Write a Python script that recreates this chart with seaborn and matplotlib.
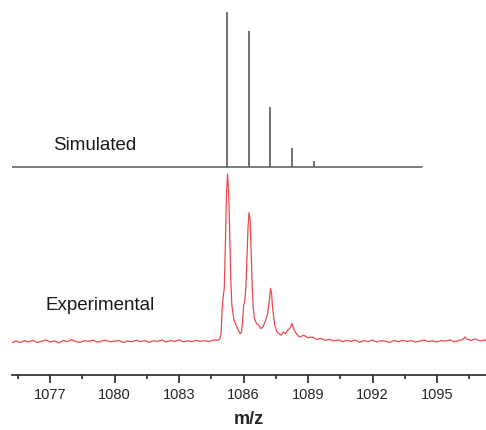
import numpy as np
import matplotlib
matplotlib.use("Agg")
import matplotlib.pyplot as plt
import seaborn as sns
import pandas as pd
from matplotlib.ticker import MultipleLocator

# Simulated isotope pattern (relative intensity)
sim_mz = [1085.24, 1086.25, 1087.24, 1088.25, 1089.27]
sim_int = [100, 88, 39, 12, 4]
sim_range = [1075.22, 1094.3]

# Experimental spectrum (relative intensity)
exp_mz = [
    1075.2, 1075.4, 1075.6, 1075.8, 1076.0, 1076.2, 1076.4, 1076.6, 1076.8, 1077.0,
    1077.2, 1077.4, 1077.6, 1077.8, 1078.0, 1078.2, 1078.4, 1078.6, 1078.8, 1079.0,
    1079.2, 1079.4, 1079.6, 1079.8, 1080.0, 1080.2, 1080.4, 1080.6, 1080.8, 1081.0,
    1081.2, 1081.4, 1081.6, 1081.8, 1082.0, 1082.2, 1082.4, 1082.6, 1082.8, 1083.0,
    1083.2, 1083.4, 1083.6, 1083.8, 1084.0, 1084.2, 1084.4, 1084.6, 1084.8,
    1084.90, 1084.95, 1085.00, 1085.05, 1085.10, 1085.15, 1085.20, 1085.25, 1085.30,
    1085.35, 1085.40, 1085.45, 1085.55, 1085.65, 1085.75, 1085.85, 1085.90, 1085.95,
    1086.00, 1086.05, 1086.10, 1086.15, 1086.20, 1086.25, 1086.30, 1086.35, 1086.40,
    1086.45, 1086.50, 1086.60, 1086.70, 1086.80, 1086.90, 1087.00, 1087.10, 1087.20,
    1087.25, 1087.30, 1087.35, 1087.45, 1087.55, 1087.65, 1087.75, 1087.85, 1087.95,
    1088.05, 1088.15, 1088.25, 1088.35, 1088.45, 1088.60, 1088.80, 1089.00, 1089.20,
    1089.4, 1089.6, 1089.8, 1090.0, 1090.2, 1090.4, 1090.6, 1090.8, 1091.0, 1091.2,
    1091.4, 1091.6, 1091.8, 1092.0, 1092.2, 1092.4, 1092.6, 1092.8, 1093.0, 1093.2,
    1093.4, 1093.6, 1093.8, 1094.0, 1094.2, 1094.4, 1094.6, 1094.8, 1095.0, 1095.2,
    1095.4, 1095.6, 1095.8, 1096.0, 1096.2, 1096.3, 1096.4, 1096.6, 1096.8, 1097.0,
    1097.2, 1097.3,
]
exp_int = [
    -0.5, 0.6, -0.3, 0.8, 0.1, 1.0, -0.4, 0.5, 1.2, 0.0,
    0.7, -0.6, 0.9, 0.3, 1.4, 0.2, -0.2, 0.8, 0.4, 1.1,
    -0.1, 0.6, 1.0, 0.2, 0.5, 0.9, -0.3, 0.6, 0.1, 1.0,
    0.3, 0.8, -0.2, 0.7, 0.4, 1.2, 0.0, 0.9, 0.3, 1.3,
    0.1, 0.7, 0.2, 1.0, 0.4, 0.8, 0.3, 1.2, 1.0,
    2, 5, 20, 27, 32, 58, 87, 100, 90,
    66, 38, 22, 13, 10, 7, 5, 6, 12,
    22, 24, 32, 48, 67, 77, 73, 54, 32,
    20, 14, 11, 10, 8, 9, 12, 16, 25,
    32, 29, 20, 10, 6, 5, 4, 6, 5,
    7, 8, 11, 7, 5, 3, 4, 2.5, 3,
    1.5, 2.2, 1.0, 1.6, 0.6, 1.3, 0.2, 1.0, 0.4, 1.2,
    -0.2, 0.8, 0.3, 1.1, 0.0, 0.7, 0.5, -0.3, 0.9, 0.2,
    1.0, 0.4, 0.8, -0.1, 0.6, 1.1, 0.3, 0.7, 0.0, 0.9,
    0.5, 1.2, 0.2, 0.8, 1.5, 3.0, 1.6, 1.0, 1.8, 0.6,
    1.2, 0.8,
]

tick_start, tick_end = 1077, 1095

sns.set_style("white")
plt.rcParams["font.family"] = ["Liberation Sans", "DejaVu Sans"]

fig = plt.figure(figsize=(4.86, 4.31), dpi=100)
ax = fig.add_axes([12 / 486, 55 / 431, 474 / 486, 376 / 431])

# vertical layout in pixel-like units: experimental trace low, simulated above
exp_base, exp_scale = 33, 1.68
sim_base, sim_scale = 208, 1.55

df_exp = pd.DataFrame({"mz": exp_mz, "y": np.array(exp_int) * exp_scale + exp_base})
sns.lineplot(data=df_exp, x="mz", y="y", ax=ax, color="#f0484a", lw=0.9, estimator=None, sort=False)

ax.plot(sim_range, [sim_base, sim_base], color="#666666", lw=1.2)
ax.vlines(sim_mz, sim_base, sim_base + np.array(sim_int) * sim_scale, color="#666666", lw=1.3)

ax.text(1077.14, 230, "Simulated", fontsize=13.5, va="center", ha="left", color="#1a1a1a")
ax.text(1076.77, 70, "Experimental", fontsize=13.5, va="center", ha="left", color="#1a1a1a")

ax.set_xlim(1075.22, 1097.28)
ax.set_ylim(0, 376)
ax.set_xticks(list(range(tick_start, tick_end + 1, 3)))
ax.xaxis.set_minor_locator(MultipleLocator(1.5))
ax.tick_params(axis="x", which="major", direction="out", length=6, width=1.2, labelsize=10.5, pad=3, bottom=True)
ax.tick_params(axis="x", which="minor", direction="out", length=3, width=1.2, bottom=True)
ax.set_yticks([])
for s in ["top", "left", "right"]:
    ax.spines[s].set_visible(False)
ax.spines["bottom"].set_linewidth(1.2)
ax.set_xlabel("m/z", fontsize=13, fontweight="bold", labelpad=6)
ax.set_ylabel("")

fig.savefig("out.png", dpi=100)
